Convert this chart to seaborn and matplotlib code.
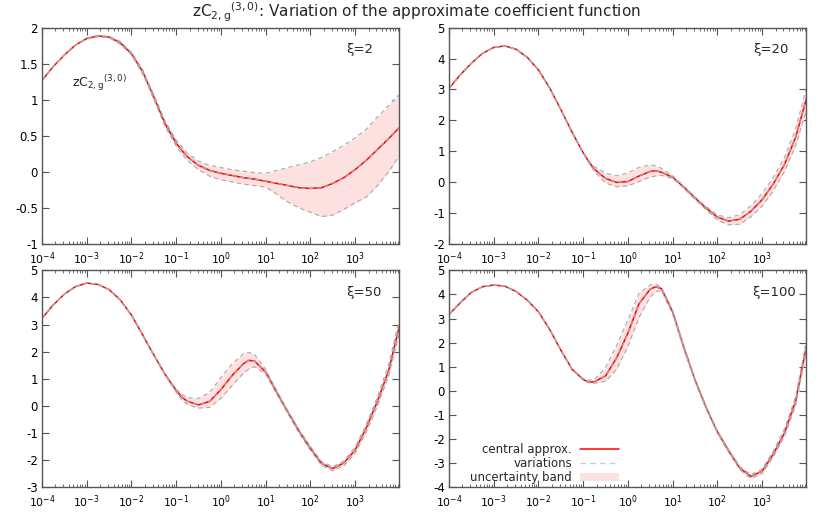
import numpy as np
import pandas as pd
import matplotlib
matplotlib.use("Agg")
import matplotlib.pyplot as plt
import matplotlib.ticker as mticker
from matplotlib.lines import Line2D
from matplotlib.patches import Patch
import seaborn as sns

# sampling grid: log10(x)
log_x = [-4, -3.75, -3.5, -3.25, -3, -2.75, -2.5, -2.25, -2, -1.75, -1.5, -1.25, -1, -0.875,
         -0.75, -0.5, -0.25, 0, 0.25, 0.5, 0.625, 0.75, 1, 1.25, 1.5, 1.75, 2, 2.25, 2.5,
         2.75, 3, 3.25, 3.5, 3.75, 4]

panel_labels = ["ξ=2", "ξ=20", "ξ=50", "ξ=100"]

# xi = 2
central_2 = [1.27, 1.46, 1.62, 1.76, 1.85, 1.885, 1.87, 1.79, 1.64, 1.39, 1.04, 0.67, 0.40, 0.30,
             0.21, 0.09, 0.02, -0.02, -0.05, -0.08, -0.09, -0.10, -0.13, -0.16, -0.19, -0.22,
             -0.23, -0.22, -0.16, -0.08, 0.03, 0.16, 0.31, 0.46, 0.62]
upper_2 = [1.27, 1.46, 1.62, 1.76, 1.86, 1.895, 1.88, 1.81, 1.66, 1.42, 1.07, 0.71, 0.44, 0.35,
           0.26, 0.15, 0.09, 0.06, 0.03, 0.01, 0.00, -0.01, -0.02, 0.02, 0.06, 0.10,
           0.14, 0.20, 0.28, 0.37, 0.47, 0.59, 0.76, 0.92, 1.08]
lower_2 = [1.27, 1.46, 1.62, 1.76, 1.84, 1.875, 1.86, 1.77, 1.62, 1.36, 1.01, 0.63, 0.36, 0.25,
           0.16, 0.03, -0.06, -0.11, -0.14, -0.17, -0.18, -0.19, -0.21, -0.31, -0.42, -0.50,
           -0.56, -0.62, -0.60, -0.52, -0.43, -0.35, -0.19, 0.00, 0.23]

# xi = 20
central_20 = [3.04, 3.47, 3.85, 4.17, 4.36, 4.41, 4.30, 4.04, 3.63, 3.05, 2.35, 1.62, 0.95, 0.66,
              0.42, 0.12, -0.01, 0.02, 0.20, 0.35, 0.37, 0.32, 0.16, -0.16, -0.51, -0.84,
              -1.13, -1.26, -1.20, -0.94, -0.57, -0.06, 0.57, 1.45, 2.75]
upper_20 = [3.04, 3.47, 3.85, 4.17, 4.36, 4.41, 4.30, 4.04, 3.63, 3.05, 2.36, 1.64, 0.97, 0.70,
            0.50, 0.29, 0.21, 0.30, 0.48, 0.56, 0.53, 0.45, 0.20, -0.12, -0.47, -0.79,
            -1.06, -1.15, -1.05, -0.76, -0.37, 0.16, 0.80, 1.72, 3.10]
lower_20 = [3.04, 3.47, 3.85, 4.17, 4.36, 4.41, 4.30, 4.04, 3.63, 3.05, 2.34, 1.60, 0.93, 0.62,
            0.35, -0.03, -0.15, -0.12, 0.02, 0.17, 0.20, 0.22, 0.12, -0.20, -0.56, -0.90,
            -1.22, -1.38, -1.36, -1.12, -0.78, -0.28, 0.34, 1.18, 2.38]

# xi = 50
central_50 = [3.23, 3.72, 4.12, 4.40, 4.53, 4.48, 4.29, 3.91, 3.35, 2.62, 1.88, 1.17, 0.57, 0.33,
              0.17, 0.04, 0.17, 0.60, 1.12, 1.55, 1.68, 1.66, 1.25, 0.50, -0.23, -0.94,
              -1.56, -2.12, -2.31, -2.10, -1.63, -0.81, 0.17, 1.30, 3.00]
upper_50 = [3.23, 3.72, 4.12, 4.40, 4.53, 4.48, 4.29, 3.91, 3.35, 2.62, 1.89, 1.19, 0.62, 0.44,
            0.30, 0.28, 0.50, 1.05, 1.55, 1.92, 1.97, 1.90, 1.35, 0.57, -0.18, -0.87,
            -1.49, -2.05, -2.24, -2.02, -1.52, -0.68, 0.33, 1.52, 3.25]
lower_50 = [3.23, 3.72, 4.12, 4.40, 4.53, 4.48, 4.29, 3.91, 3.35, 2.62, 1.87, 1.15, 0.50, 0.22,
            0.05, -0.08, -0.05, 0.28, 0.75, 1.20, 1.36, 1.45, 1.18, 0.43, -0.30, -1.01,
            -1.63, -2.19, -2.39, -2.20, -1.75, -0.96, 0.00, 1.10, 2.75]

# xi = 100
central_100 = [3.17, 3.65, 4.09, 4.32, 4.39, 4.34, 4.12, 3.76, 3.28, 2.55, 1.69, 0.90, 0.47, 0.36,
               0.38, 0.62, 1.38, 2.40, 3.62, 4.22, 4.32, 4.24, 3.28, 1.80, 0.45, -0.70,
               -1.70, -2.48, -3.20, -3.55, -3.33, -2.62, -1.75, -0.42, 1.95]
upper_100 = [3.17, 3.65, 4.09, 4.32, 4.39, 4.34, 4.12, 3.76, 3.28, 2.55, 1.70, 0.92, 0.52, 0.44,
             0.47, 0.97, 1.90, 2.95, 4.05, 4.40, 4.42, 4.30, 3.35, 1.87, 0.51, -0.64,
             -1.64, -2.42, -3.13, -3.48, -3.24, -2.50, -1.58, -0.25, 2.18]
lower_100 = [3.17, 3.65, 4.09, 4.32, 4.39, 4.34, 4.12, 3.76, 3.28, 2.55, 1.68, 0.88, 0.44, 0.33,
             0.32, 0.40, 0.90, 1.85, 3.05, 3.90, 4.12, 4.15, 3.18, 1.73, 0.39, -0.76,
             -1.76, -2.54, -3.27, -3.63, -3.43, -2.74, -1.88, -0.60, 1.72]

y_limits = [(-1, 2), (-2, 5), (-3, 5), (-4, 5)]
y_steps = [0.5, 1, 1, 1]

panels = [(central_2, upper_2, lower_2), (central_20, upper_20, lower_20),
          (central_50, upper_50, lower_50), (central_100, upper_100, lower_100)]

sns.set_style("ticks")
plt.rcParams["font.family"] = ["DejaVu Sans"]
plt.rcParams["font.size"] = 8

band_color = "#fde0e0"
var_color = "#aaaaaa"
frame_color = "#555555"
fn_label = "zC$_{2,\\mathregular{g}}{}^{(3,0)}$"

fig = plt.figure(figsize=(8.3, 5.29), dpi=100)
rects = [(0.0506, 0.5388, 0.4301, 0.4089), (0.541, 0.5388, 0.4301, 0.4089),
         (0.0506, 0.0788, 0.4301, 0.4102), (0.541, 0.0788, 0.4301, 0.4102)]
label_pos = [(0.927, 0.897), (0.95, 0.897), (0.95, 0.90), (0.972, 0.897)]

axes = []
for i, (central, upper, lower) in enumerate(panels):
    ax = fig.add_axes(rects[i])
    df = pd.DataFrame({"x": 10 ** np.array(log_x), "central": central,
                       "upper": upper, "lower": lower})
    ax.fill_between(df["x"], df["lower"], df["upper"], color=band_color, lw=0)
    sns.lineplot(data=df, x="x", y="central", ax=ax, color="red", lw=1.1,
                 estimator=None, sort=False)
    for col in ["upper", "lower", "central"]:
        sns.lineplot(data=df, x="x", y=col, ax=ax, color=var_color, lw=0.8,
                     linestyle=(0, (4, 3)), estimator=None, sort=False)
    ax.set_xscale("log")
    ax.set_xlim(1e-4, 9600)
    ax.set_ylim(*y_limits[i])
    ax.set_xlabel("")
    ax.set_ylabel("")
    ax.set_xticks([1e-4, 1e-3, 1e-2, 1e-1, 1, 10, 100, 1000])
    ax.set_xticklabels(["$10^{-4}$", "$10^{-3}$", "$10^{-2}$", "$10^{-1}$", "$10^{0}$",
                        "$10^{1}$", "$10^{2}$", "$10^{3}$"])
    ax.xaxis.set_minor_locator(mticker.LogLocator(base=10, subs=np.arange(2, 10), numticks=20))
    ax.xaxis.set_minor_formatter(mticker.NullFormatter())
    ax.yaxis.set_major_locator(mticker.MultipleLocator(y_steps[i]))
    ax.yaxis.set_major_formatter(mticker.FuncFormatter(lambda v, p: "{:g}".format(v)))
    ax.tick_params(which="both", direction="in", top=True, right=True,
                   color=frame_color, labelcolor="black", labelsize=8.5)
    ax.tick_params(which="major", length=5, width=0.8, pad=3)
    ax.tick_params(axis="x", which="major", pad=4.4, labelsize=7.8)
    ax.tick_params(which="minor", length=2.5, width=0.6)
    for s in ax.spines.values():
        s.set_color(frame_color)
        s.set_linewidth(1.0)
    ax.text(label_pos[i][0], label_pos[i][1], panel_labels[i], transform=ax.transAxes,
            ha="right", va="center", fontsize=9.5)
    axes.append(ax)

axes[0].text(0.084, 0.745, fn_label, transform=axes[0].transAxes,
             ha="left", va="center", fontsize=9)

fig.text(0.502, 0.977, fn_label + ": Variation of the approximate coefficient function",
         ha="center", va="center", fontsize=11)

handles = [Line2D([], [], color="red", lw=1.1),
           Line2D([], [], color="#cccccc", lw=1.0, linestyle=(0, (4, 3))),
           Patch(facecolor=band_color, edgecolor="none")]
axes[3].legend(handles, ["central approx.", "variations", "uncertainty band"],
               loc="lower right", bbox_to_anchor=(0.503, -0.03), markerfirst=False,
               frameon=False, fontsize=8.5, handlelength=3.3, handleheight=0.6,
               labelspacing=0.1, handletextpad=0.7, borderpad=0.3)

fig.savefig("out.png", dpi=100)
